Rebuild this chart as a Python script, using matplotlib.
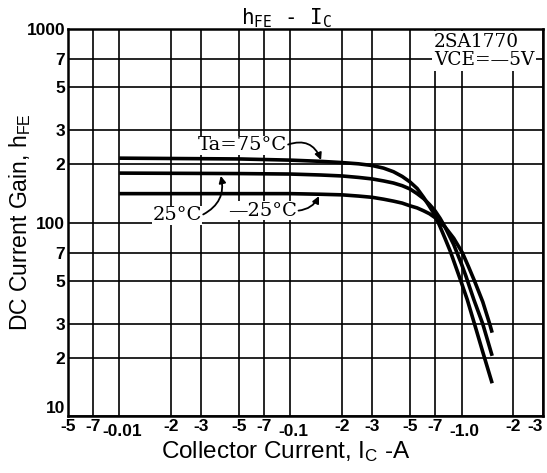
import numpy as np
import matplotlib
matplotlib.use('Agg')
from matplotlib import pyplot as plt
from matplotlib.transforms import ScaledTranslation

# collector current (A, magnitude) and hFE for each ambient temperature
ic_75 = [0.01, 0.05, 0.1, 0.15, 0.2, 0.25, 0.3, 0.35, 0.4, 0.45, 0.5, 0.55, 0.6, 0.65, 0.7,
         0.75, 0.8, 0.86, 0.92, 0.99, 1.08, 1.19, 1.33, 1.51]
hfe_75 = [215, 213, 210, 207, 204, 201, 197, 191, 183, 173, 162, 150, 135, 121, 109,
          95, 83, 71, 60, 50, 40, 30, 21.5, 14.8]

ic_25 = [0.01, 0.05, 0.1, 0.15, 0.2, 0.25, 0.3, 0.35, 0.4, 0.45, 0.5, 0.55, 0.6, 0.65, 0.7,
         0.75, 0.8, 0.9, 1.0, 1.06, 1.18, 1.33, 1.51]
hfe_25 = [180, 179, 178, 176, 174, 171, 168, 164, 160, 155, 149, 141, 133, 124, 115,
          105, 95, 77, 61, 53, 40, 30, 20.5]

ic_m25 = [0.01, 0.05, 0.1, 0.15, 0.2, 0.25, 0.3, 0.35, 0.4, 0.45, 0.5, 0.55, 0.6, 0.65, 0.7,
          0.75, 0.8, 0.9, 1.01, 1.1, 1.19, 1.33, 1.46, 1.51]
hfe_m25 = [141, 141, 141, 140, 139, 137, 135, 132, 129, 126, 122, 119, 115, 111, 106,
           100, 95, 83, 70, 59, 50, 39, 30, 27]

xticks = [0.005, 0.007, 0.01, 0.02, 0.03, 0.05, 0.07, 0.1, 0.2, 0.3, 0.5, 0.7, 1.0, 2, 3]
xlabels = ['-5', '-7', '-0.01', '-2', '-3', '-5', '-7', '-0.1', '-2', '-3', '-5', '-7', '-1.0', '-2', '-3']
yticks = [10, 20, 30, 50, 70, 100, 200, 300, 500, 700, 1000]
ylabels = ['10', '2', '3', '5', '7', '100', '2', '3', '5', '7', '1000']

fig = plt.figure(figsize=(5.47, 4.73), dpi=100)
ax = fig.add_axes([0.124, 0.12, 0.869, 0.819])

ax.set_xscale('log')
ax.set_yscale('log')
ax.set_xlim(0.005, 3)
ax.set_ylim(10, 1000)

for ic, hfe in [(ic_75, hfe_75), (ic_25, hfe_25), (ic_m25, hfe_m25)]:
    ax.plot(ic, hfe, color='black', lw=2.6, solid_capstyle='butt',
            solid_joinstyle='round')

ax.set_xticks(xticks)
ax.set_xticklabels(xlabels, fontweight='bold', fontsize=12.5, family='Liberation Sans')
ax.set_yticks(yticks)
ax.set_yticklabels(ylabels, fontweight='bold', fontsize=12.5, family='Liberation Sans')
ax.minorticks_off()
ax.tick_params(length=0, pad=2)
ax.get_xticklabels()[-1].set_ha('right')
ax.get_yticklabels()[0].set_va('bottom')
# decade labels sit a little lower, like the original
for i in [2, 7, 12]:
    lab = ax.get_xticklabels()[i]
    lab.set_transform(lab.get_transform() +
                      ScaledTranslation(0.03, -0.05, fig.dpi_scale_trans))
ax.grid(True, color='black', lw=1.2)
for s in ax.spines.values():
    s.set_linewidth(1.8)

ax.set_xlabel('Collector Current, $\\mathregular{I_C}$ -A', fontsize=17.5,
              family='Liberation Sans')
ax.xaxis.set_label_coords(0.459, -0.06)
ax.set_ylabel('DC Current Gain, $\\mathregular{h_{FE}}$', fontsize=16.5,
              family='Liberation Sans')
ax.yaxis.set_label_coords(-0.074, 0.5)
fig.text(0.523, 0.962, '$\\mathregular{h_{FE}}$ - $\\mathregular{I_C}$', fontsize=15,
         family='DejaVu Sans Mono', ha='center', va='center')

# device box
ax.text(0.77, 0.99, '2SA1770\nVCE=\u20145V', transform=ax.transAxes,
        ha='left', va='top', fontsize=13.3, family='DejaVu Serif',
        linespacing=1.0,
        bbox=dict(facecolor='white', edgecolor='none', pad=1.5))

# temperature labels
arrow = dict(arrowstyle='-|>', color='black', lw=1.3, mutation_scale=10,
             relpos=(1, 0.5), shrinkA=1, shrinkB=1)
ax.annotate('Ta=75\u00b0C', xy=(0.152, 207), xytext=(0.052, 251),
            ha='center', va='center', fontsize=14, family='DejaVu Serif',
            bbox=dict(facecolor='white', edgecolor='none', pad=0.3),
            arrowprops=dict(connectionstyle='arc3,rad=-0.5', **arrow))
ax.annotate('25\u00b0C', xy=(0.039, 177), xytext=(0.0217, 109),
            ha='center', va='center', fontsize=14, family='DejaVu Serif',
            bbox=dict(facecolor='white', edgecolor='none', pad=0.3),
            arrowprops=dict(connectionstyle='arc3,rad=0.4', **arrow))
ax.annotate('\u201425\u00b0C', xy=(0.148, 139), xytext=(0.0685, 115),
            ha='center', va='center', fontsize=14, family='DejaVu Serif',
            bbox=dict(facecolor='white', edgecolor='none', pad=0.3),
            arrowprops=dict(connectionstyle='arc3,rad=0.3', **arrow))

fig.savefig('out.png', dpi=100)
